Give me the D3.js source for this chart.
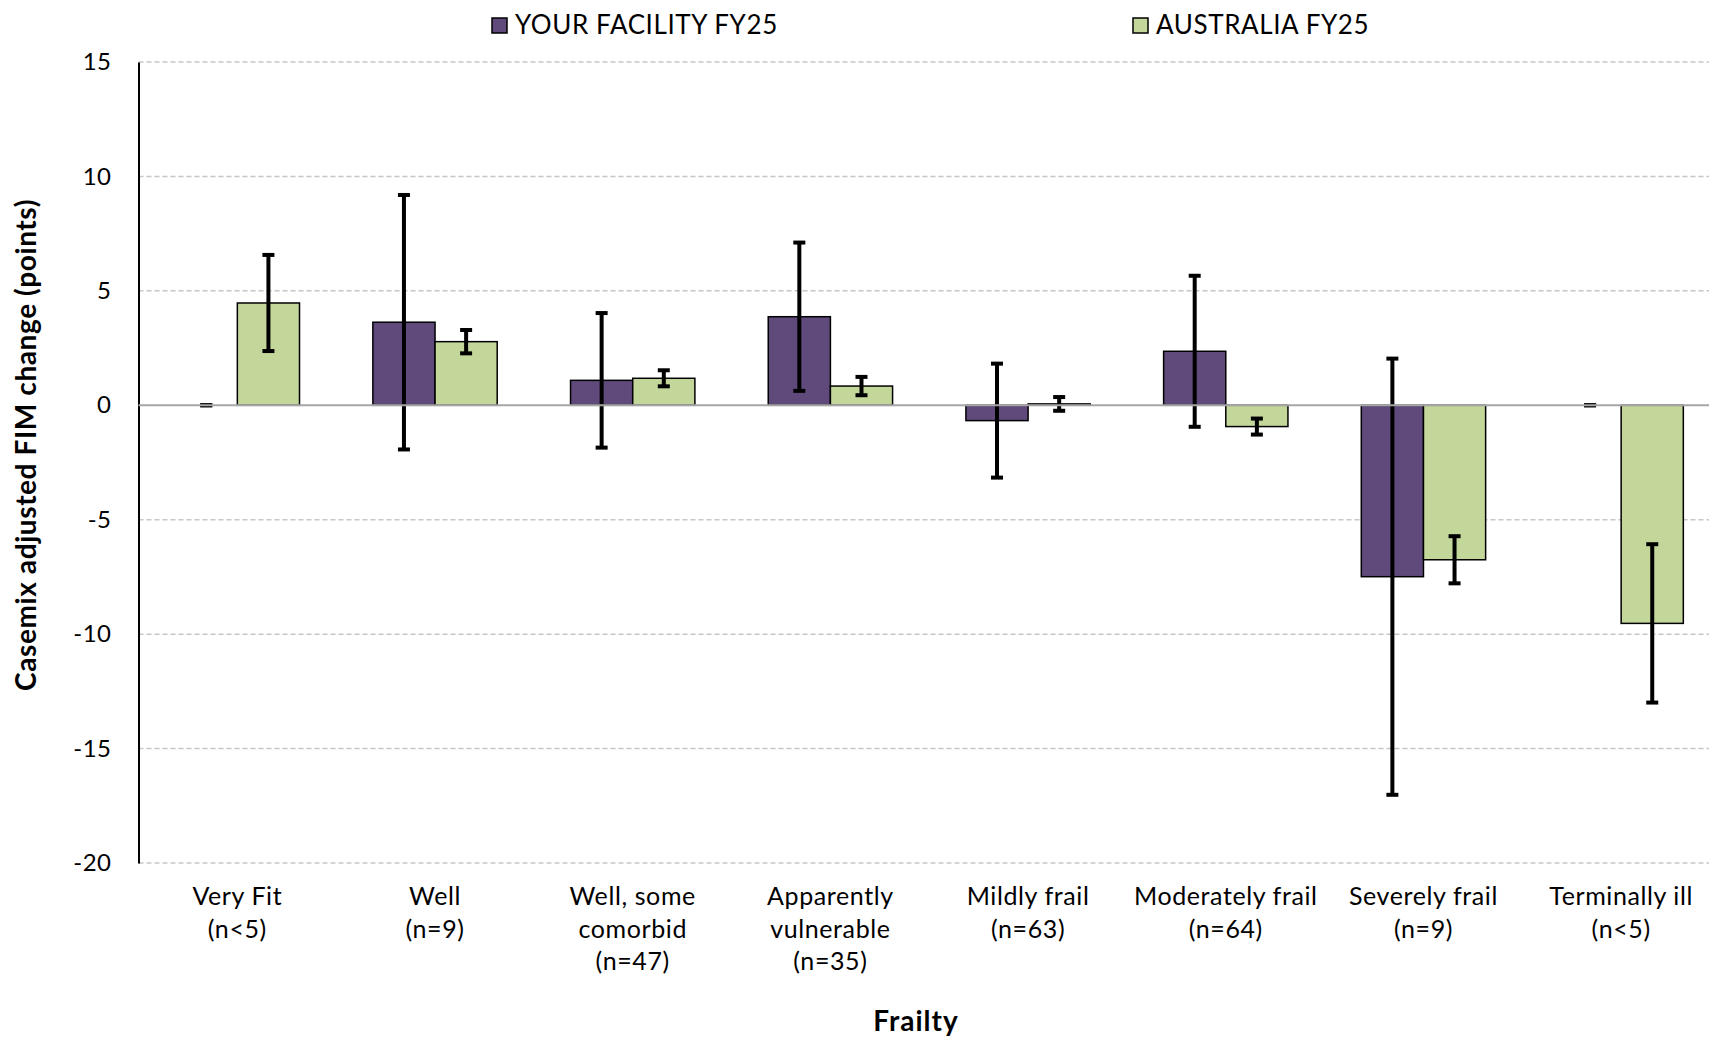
<!DOCTYPE html>
<html>
<head>
<meta charset="utf-8">
<script src="https://cdn.jsdelivr.net/npm/d3@7"></script>
<style>
  body { margin: 0; background: #fff; }
  svg text { font-family: Lato, "Open Sans", sans-serif; fill: #000; }
</style>
</head>
<body>
<div id="chart"></div>
<script>
const categories = [
  ["Very Fit", "(n<5)"],
  ["Well", "(n=9)"],
  ["Well, some", "comorbid", "(n=47)"],
  ["Apparently", "vulnerable", "(n=35)"],
  ["Mildly frail", "(n=63)"],
  ["Moderately frail", "(n=64)"],
  ["Severely frail", "(n=9)"],
  ["Terminally ill", "(n<5)"]
];
const seriesNames = ["YOUR FACILITY FY25", "AUSTRALIA FY25"];
const facilityValues = [0, 3.63, 1.09, 3.87, -0.67, 2.36, -7.49, 0];
const facilityErrors = [0, 5.56, 2.94, 3.24, 2.49, 3.3, 9.53, 0];
const australiaValues = [4.47, 2.78, 1.18, 0.84, 0.06, -0.93, -6.75, -9.53];
const australiaErrors = [2.1, 0.51, 0.35, 0.4, 0.3, 0.35, 1.03, 3.46];
const yTicks = [15, 10, 5, 0, -5, -10, -15, -20];

const width = 1709, height = 1037;
const plotLeft = 138.5, plotTop = 62, plotBottom = 863;
const colors = ["#604a7b", "#c4d79b"];

const svg = d3.select('#chart').append('svg')
    .attr('width', width)
    .attr('height', height);

const y = d3.scaleLinear().domain([-20, 15]).range([plotBottom, plotTop]);
const x0 = d3.scaleBand()
    .domain(d3.range(categories.length))
    .range([plotLeft, 1720]);
const x1 = d3.scaleBand()
    .domain([0, 1])
    .range([0, x0.bandwidth()])
    .paddingInner(0)
    .paddingOuter(0.59);

// gridlines
svg.append('g')
  .selectAll('line')
  .data(yTicks.filter(t => t !== 0))
  .enter().append('line')
    .attr('x1', plotLeft)
    .attr('x2', width)
    .attr('y1', d => y(d))
    .attr('y2', d => y(d))
    .attr('stroke', '#c6c6c6')
    .attr('stroke-width', 1.5)
    .attr('stroke-dasharray', '5,3');

// y axis (plain hyphen for negatives, like the original)
const yAxis = svg.append('g')
    .attr('transform', `translate(${plotLeft},0)`)
    .call(d3.axisLeft(y).tickValues(yTicks).tickFormat(d => String(d))
      .tickSize(0).tickPadding(27));
yAxis.select('.domain').attr('stroke', '#000').attr('stroke-width', 2);
yAxis.selectAll('text')
    .style('font-family', 'Lato, sans-serif')
    .attr('font-size', 24)
    .attr('letter-spacing', 0.5)
    .attr('dy', '0.32em');

const rows = categories.map((c, i) => [
  {s: 0, i, v: facilityValues[i], e: facilityErrors[i]},
  {s: 1, i, v: australiaValues[i], e: australiaErrors[i]}
]);

const groups = svg.append('g')
  .selectAll('g')
  .data(rows)
  .enter().append('g')
    .attr('transform', (d, i) => `translate(${x0(i)},0)`);

groups.selectAll('rect')
  .data(d => d.filter(p => p.v !== 0))
  .enter().append('rect')
    .attr('x', d => x1(d.s))
    .attr('width', x1.bandwidth())
    .attr('y', d => y(Math.max(0, d.v)))
    .attr('height', d => Math.abs(y(d.v) - y(0)))
    .attr('fill', d => colors[d.s])
    .attr('stroke', '#000')
    .attr('stroke-width', 1.5);

// error bars
const err = groups.selectAll('g.err')
  .data(d => d)
  .enter().append('g')
    .attr('class', 'err')
    .attr('transform', d => `translate(${x1(d.s) + x1.bandwidth() / 2},0)`);

err.append('line')
    .attr('y1', d => y(d.v + d.e))
    .attr('y2', d => y(d.v - d.e))
    .attr('stroke', '#000')
    .attr('stroke-width', 4);

err.selectAll('line.cap')
  .data(d => [d.v + d.e, d.v - d.e])
  .enter().append('line')
    .attr('class', 'cap')
    .attr('x1', -6)
    .attr('x2', 6)
    .attr('y1', d => y(d))
    .attr('y2', d => y(d))
    .attr('stroke', '#000')
    .attr('stroke-width', 4);

// zero line drawn over the bars
svg.append('line')
    .attr('x1', plotLeft)
    .attr('x2', width)
    .attr('y1', y(0))
    .attr('y2', y(0))
    .attr('stroke', '#a6a6a6')
    .attr('stroke-width', 2);

// category labels
const catLabels = svg.append('g')
  .selectAll('text')
  .data(categories)
  .enter().append('text')
    .attr('x', (d, i) => x0(i) + x0.bandwidth() / 2)
    .attr('y', 905)
    .attr('text-anchor', 'middle')
    .attr('font-size', 25)
    .attr('letter-spacing', 0.6);
catLabels.selectAll('tspan')
  .data(d => d)
  .enter().append('tspan')
    .attr('x', function() { return this.parentNode.getAttribute('x'); })
    .attr('dy', (d, i) => i === 0 ? 0 : 32.5)
    .text(d => d);

// axis titles
svg.append('text')
    .attr('x', 916)
    .attr('y', 1031)
    .attr('text-anchor', 'middle')
    .attr('font-size', 28)
    .attr('letter-spacing', 1)
    .attr('font-weight', 'bold')
    .text('Frailty');

svg.append('text')
    .attr('transform', 'translate(36,445) rotate(-90)')
    .attr('text-anchor', 'middle')
    .attr('font-size', 28)
    .attr('letter-spacing', 0.6)
    .attr('font-weight', 'bold')
    .text('Casemix adjusted FIM change (points)');

// legend
const legendX = [492, 1133];
const legend = svg.append('g')
  .selectAll('g')
  .data(seriesNames)
  .enter().append('g')
    .attr('transform', (d, i) => `translate(${legendX[i]},18)`);
legend.append('rect')
    .attr('width', 15)
    .attr('height', 15)
    .attr('fill', (d, i) => colors[i])
    .attr('stroke', '#000')
    .attr('stroke-width', 1.5);
legend.append('text')
    .attr('x', 23)
    .attr('y', 16)
    .attr('font-size', 26)
    .attr('letter-spacing', 0.6)
    .text(d => d);
</script>
</body>
</html>
